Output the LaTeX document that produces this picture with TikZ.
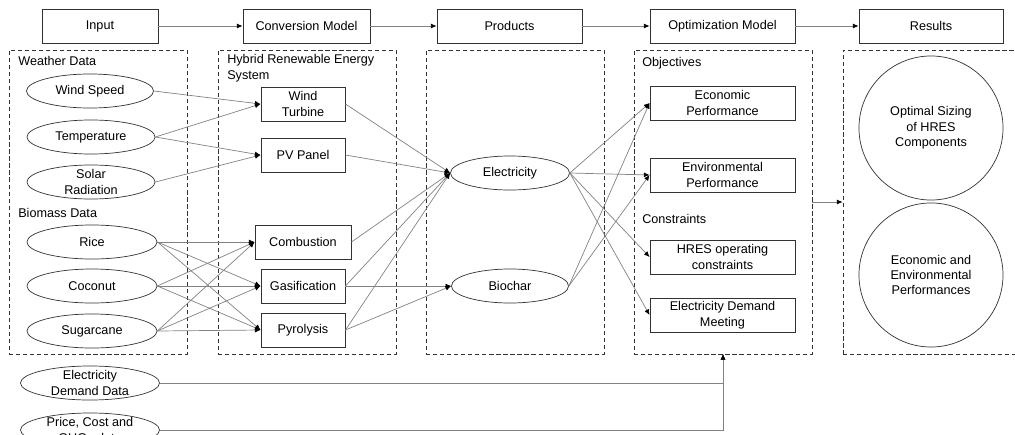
\documentclass[tikz,border=0pt]{standalone}
\usepackage{fontspec}
\setmainfont{Liberation Sans}
\usetikzlibrary{shapes.geometric,arrows.meta,positioning,fit}
\definecolor{linegray}{RGB}{130,130,130}
\definecolor{edgegray}{RGB}{50,50,50}

\begin{document}
\begin{tikzpicture}[x=0.025cm, y=-0.025cm,
  stagebox/.style={draw=edgegray, line width=0.6pt, font=\small, minimum height=0.85cm, inner sep=1pt},
  unitbox/.style={stagebox, align=center, minimum width=2.1cm},
  oval/.style={ellipse, draw=edgegray, line width=0.5pt, font=\small, align=center,
               minimum height=0.85cm, inner xsep=1pt, inner ysep=-2pt},
  rescircle/.style={circle, draw=edgegray, line width=0.5pt, font=\small, align=center, minimum size=3.6cm},
  grpbox/.style={draw=edgegray, line width=0.6pt, dash pattern=on 3pt off 2pt, inner sep=0pt},
  hdr/.style={font=\small, anchor=west, inner sep=0pt},
  flow/.style={draw=linegray, line width=0.5pt, -{Latex[length=4pt,width=3.5pt,color=black]}}
]
\useasboundingbox (0,0) rectangle (1015,435);

% stages along the top
\node[stagebox, minimum width=2.9cm]   (input) at (100,26)   {Input};
\node[stagebox, minimum width=3.175cm] (conv)  at (306.5,26) {Conversion Model};
\node[stagebox, minimum width=3.625cm] (prod)  at (509.5,26) {Products};
\node[stagebox, minimum width=3.625cm] (optm)  at (722.5,26) {Optimization Model};
\node[stagebox, minimum width=3.6cm]   (res)   at (931,26)   {Results};
\draw[flow] (input) -- (conv);
\draw[flow] (conv) -- (prod);
\draw[flow] (prod) -- (optm);
\draw[flow] (optm) -- (res);

% dashed groups
\node[grpbox, fit={(9,50) (187,354)}]   (ingrp)   {};
\node[grpbox, fit={(218,50) (396,354)}] (convgrp) {};
\node[grpbox, fit={(426,50) (604,354)}] (prodgrp) {};
\node[grpbox, fit={(634,50) (812,354)}] (optgrp)  {};
\node[grpbox, fit={(843,50) (1040,354)}] (resgrp) {};

% input data
\node[hdr] (weather) at (18,61)  {Weather Data};
\node[oval, minimum width=3.175cm] (wind)  at (90,91)  {Wind Speed};
\node[oval, minimum width=3.2cm]   (temp)  at (91,137) {Temperature};
\node[oval, minimum width=3.2cm]   (solar) at (91,182) {Solar\\Radiation};
\node[hdr] (biomass) at (18,213) {Biomass Data};
\node[oval, minimum width=3.25cm]  (rice)  at (92,242) {Rice};
\node[oval, minimum width=3.25cm]  (coco)  at (92,286) {Coconut};
\node[oval, minimum width=3.25cm]  (sugar) at (92,331) {Sugarcane};
\node[oval, minimum width=3.475cm] (demand) at (90,383) {Electricity\\Demand Data};
\node[oval, minimum width=3.475cm] (price)  at (90,430) {Price, Cost and\\GHGs data};

% conversion units
\node[hdr, align=left] (hybrid) at (227,68) {Hybrid Renewable Energy\\System};
\node[unitbox] (turb) at (303,104) {Wind\\Turbine};
\node[unitbox] (pv)   at (303,155) {PV Panel};
\node[unitbox, minimum width=2.4cm] (comb) at (303,242) {Combustion};
\node[unitbox] (gasi) at (303,286) {Gasification};
\node[unitbox] (pyro) at (303,330) {Pyrolysis};

% products
\node[oval, minimum width=2.975cm] (elec)    at (510,173) {Electricity};
\node[oval, minimum width=2.925cm] (biochar) at (510,286) {Biochar};

% optimization model
\node[hdr] (obj)  at (642,63)  {Objectives};
\node[unitbox, minimum width=3.625cm] (econ) at (722.5,103) {Economic\\Performance};
\node[unitbox, minimum width=3.625cm] (env)  at (722.5,175) {Environmental\\Performance};
\node[hdr] (cons) at (642,219) {Constraints};
\node[unitbox, minimum width=3.625cm] (hres) at (722.5,257) {HRES operating\\constraints};
\node[unitbox, minimum width=3.625cm] (meet) at (722.5,315) {Electricity Demand\\Meeting};

% results
\node[rescircle] (sizing) at (931,128) {Optimal Sizing\\of HRES\\Components};
\node[rescircle] (perf)   at (931,275) {Economic and\\Environmental\\Performances};

% connectors
\foreach \a/\b in {wind/turb, temp/turb, temp/pv, solar/pv}
  \draw[flow] (\a.east) -- (\b.west);
\foreach \a in {rice,coco,sugar}
  \foreach \b in {comb,gasi,pyro}
    \draw[flow] (\a.east) -- (\b.west);
\foreach \a in {turb,pv,comb,gasi,pyro}
  \draw[flow] (\a.east) -- (elec.west);
\foreach \a in {gasi,pyro}
  \draw[flow] (\a.east) -- (biochar.west);
\foreach \b in {econ,env,hres,meet}
  \draw[flow] (elec.east) -- (\b.west);
\foreach \b in {econ,env}
  \draw[flow] (biochar.east) -- (\b.west);
\draw[flow] (optgrp) -- (resgrp);

\coordinate (inlet) at (723,354);
\draw[flow] (demand.east) -| (inlet);
\draw[flow] (price.east) -| (inlet);
\end{tikzpicture}
\end{document}
